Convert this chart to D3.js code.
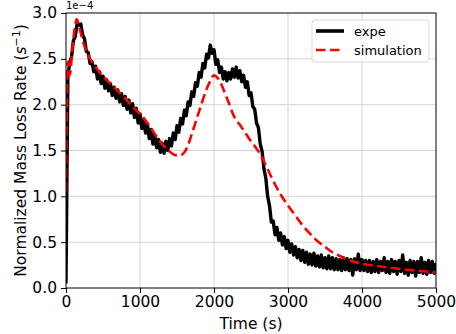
<!DOCTYPE html>
<html lang="en">
<head>
<meta charset="utf-8">
<title>Mass loss rate</title>
<script src="https://d3js.org/d3.v7.min.js"></script>
<style>
  body { margin: 0; background: #fff; }
  svg { display: block; font-family: "DejaVu Sans", sans-serif; }
</style>
</head>
<body>
<svg id="chart" width="456" height="334"></svg>
<script>
// axis ticks
const xTicks = [0, 1000, 2000, 3000, 4000, 5000]
const yTicks = [0.0, 0.5, 1.0, 1.5, 2.0, 2.5, 3.0]
const seriesNames = ["expe", "simulation"]

const expe = [
  [0,0.05],[25,2.30],[50,2.46],[75,2.52],[100,2.70],[125,2.74],[150,2.88],[175,2.87],
  [200,2.88],[225,2.76],[250,2.72],[275,2.58],[300,2.57],[325,2.45],[350,2.47],[375,2.36],
  [400,2.42],[425,2.28],[450,2.36],[475,2.23],[500,2.31],[525,2.18],[550,2.27],[575,2.15],
  [600,2.23],[625,2.10],[650,2.19],[675,2.07],[700,2.16],[725,2.03],[750,2.12],[775,1.99],
  [800,2.09],[825,1.95],[850,2.05],[875,1.91],[900,2.01],[925,1.86],[950,1.96],[975,1.80],
  [1000,1.90],[1025,1.74],[1050,1.84],[1075,1.69],[1100,1.79],[1125,1.63],[1150,1.73],[1175,1.57],
  [1200,1.67],[1225,1.53],[1250,1.62],[1275,1.48],[1300,1.58],[1325,1.47],[1350,1.60],[1375,1.50],
  [1400,1.63],[1425,1.55],[1450,1.69],[1475,1.62],[1500,1.77],[1525,1.70],[1550,1.85],[1575,1.79],
  [1600,1.94],[1625,1.88],[1650,2.03],[1675,1.99],[1700,2.14],[1725,2.09],[1750,2.24],[1775,2.20],
  [1800,2.35],[1825,2.30],[1850,2.45],[1875,2.40],[1900,2.55],[1925,2.51],[1950,2.65],[1975,2.56],
  [2000,2.60],[2025,2.44],[2050,2.49],[2075,2.35],[2100,2.41],[2125,2.28],[2150,2.36],[2175,2.26],
  [2200,2.35],[2225,2.28],[2250,2.39],[2275,2.30],[2300,2.41],[2325,2.29],[2350,2.37],[2375,2.25],
  [2400,2.32],[2425,2.19],[2450,2.25],[2475,2.10],[2500,2.13],[2525,1.98],[2550,1.95],[2575,1.80],
  [2600,1.75],[2625,1.57],[2650,1.49],[2675,1.30],[2700,1.20],[2725,1.00],[2750,0.90],[2775,0.72],
  [2800,0.73],[2825,0.58],[2850,0.66],[2875,0.52],[2900,0.60],[2925,0.47],[2950,0.56],[2975,0.43],
  [3000,0.52],[3025,0.39],[3050,0.48],[3075,0.36],[3100,0.45],[3125,0.33],[3150,0.42],[3175,0.30],
  [3200,0.41],[3225,0.28],[3250,0.39],[3275,0.26],[3300,0.37],[3325,0.25],[3350,0.38],[3375,0.24],
  [3400,0.35],[3425,0.23],[3450,0.36],[3475,0.22],[3500,0.33],[3525,0.21],[3550,0.35],[3575,0.21],
  [3600,0.33],[3625,0.20],[3650,0.32],[3675,0.20],[3700,0.31],[3725,0.19],[3750,0.33],[3775,0.20],
  [3800,0.32],[3825,0.19],[3850,0.31],[3875,0.14],[3900,0.32],[3925,0.20],[3950,0.37],[3975,0.19],
  [4000,0.31],[4025,0.19],[4050,0.30],[4075,0.18],[4100,0.30],[4125,0.17],[4150,0.29],[4175,0.18],
  [4200,0.31],[4225,0.17],[4250,0.29],[4275,0.19],[4300,0.33],[4325,0.17],[4350,0.29],[4375,0.16],
  [4400,0.31],[4425,0.18],[4450,0.29],[4475,0.15],[4500,0.30],[4525,0.18],[4550,0.36],[4575,0.16],
  [4600,0.28],[4625,0.14],[4650,0.30],[4675,0.17],[4700,0.29],[4725,0.13],[4750,0.29],[4775,0.17],
  [4800,0.33],[4825,0.16],[4850,0.28],[4875,0.15],[4900,0.30],[4925,0.17],[4950,0.29],[4975,0.16],
  [5000,0.27]
]

// simulation [time (s), rate x1e-4], smooth
const simulation = [
  [0,1.05],[10,1.90],[20,2.45],[30,2.47],[45,2.32],[60,2.36],[80,2.55],[100,2.72],[120,2.85],
  [145,2.93],[170,2.88],[200,2.78],[250,2.64],[300,2.54],[400,2.41],[500,2.31],[600,2.23],
  [700,2.15],[800,2.07],[900,1.98],[1000,1.90],[1100,1.80],[1200,1.68],[1300,1.57],[1400,1.49],
  [1480,1.45],[1550,1.45],[1600,1.48],[1650,1.56],[1700,1.68],[1800,1.93],[1900,2.17],[1950,2.26],
  [2000,2.32],[2050,2.29],[2100,2.22],[2150,2.12],[2200,2.02],[2250,1.91],[2300,1.83],[2350,1.78],
  [2400,1.72],[2450,1.66],[2500,1.60],[2550,1.55],[2600,1.49],[2650,1.42],[2700,1.34],[2800,1.17],
  [2900,1.02],[3000,0.90],[3100,0.79],[3200,0.68],[3300,0.59],[3400,0.51],[3500,0.45],[3600,0.39],
  [3700,0.35],[3800,0.31],[3900,0.285],[4000,0.265],[4200,0.24],[4400,0.22],[4600,0.20],[4800,0.185],
  [5000,0.17]
]

const margin = {top: 13, right: 20, bottom: 46, left: 66}
const W = 456, H = 334
const width = W - margin.left - margin.right
const height = H - margin.top - margin.bottom

const svg = d3.select("#chart")
const g = svg.append("g").attr("transform", `translate(${margin.left},${margin.top})`)

const x = d3.scaleLinear().domain([0, 5000]).range([0, width])
const y = d3.scaleLinear().domain([0, 3]).range([height, 0])

// grid
g.append("g").selectAll("line").data(xTicks.slice(1, -1)).join("line")
  .attr("x1", d => x(d)).attr("x2", d => x(d))
  .attr("y1", 0).attr("y2", height)
  .attr("stroke", "#d4d4d4").attr("stroke-width", 1)
g.append("g").selectAll("line").data(yTicks.slice(1, -1)).join("line")
  .attr("x1", 0).attr("x2", width)
  .attr("y1", d => y(d)).attr("y2", d => y(d))
  .attr("stroke", "#d4d4d4").attr("stroke-width", 1)

// clip for the curves
svg.append("defs").append("clipPath").attr("id", "clip")
  .append("rect").attr("x", 0).attr("y", -2).attr("width", width).attr("height", height + 2)

const line = d3.line().x(d => x(d[0])).y(d => y(d[1]))

const curves = g.append("g").attr("clip-path", "url(#clip)")
curves.append("path").datum(expe)
  .attr("fill", "none").attr("stroke", "#000")
  .attr("stroke-width", 3.4).attr("stroke-linejoin", "round")
  .attr("d", line)
curves.append("path").datum(simulation)
  .attr("fill", "none").attr("stroke", "#ff0000")
  .attr("stroke-width", 2.6).attr("stroke-dasharray", "9.5,4.5")
  .attr("d", line.curve(d3.curveMonotoneX))

// axes
const xAxis = g.append("g").attr("transform", `translate(0,${height})`)
  .call(d3.axisBottom(x).tickValues(xTicks).tickSize(5).tickPadding(3).tickFormat(d3.format("d")))
const yAxis = g.append("g")
  .call(d3.axisLeft(y).tickValues(yTicks).tickSize(5).tickPadding(4).tickFormat(d3.format(".1f")))
;[xAxis, yAxis].forEach(a => {
  a.select(".domain").remove()
  a.selectAll("line").attr("stroke", "#000").attr("stroke-width", 1)
  a.selectAll("text").attr("font-size", 15.5).attr("fill", "#000")
    .attr("font-family", "DejaVu Sans, sans-serif")
})

// frame
g.append("rect").attr("width", width).attr("height", height)
  .attr("fill", "none").attr("stroke", "#000").attr("stroke-width", 1)

// offset text
g.append("text").attr("x", 0).attr("y", -4)
  .attr("font-size", 10).text("1e\u22124")

// axis labels
svg.append("text").attr("x", margin.left + width / 2).attr("y", 329)
  .attr("text-anchor", "middle").attr("font-size", 15.5).text("Time (s)")
const yl = svg.append("text")
  .attr("transform", `translate(26,${margin.top + height / 2}) rotate(-90)`)
  .attr("text-anchor", "middle").attr("font-size", 15.5)
yl.append("tspan").text("Normalized Mass Loss Rate (")
yl.append("tspan").attr("font-style", "italic").text("s")
yl.append("tspan").attr("dy", -6).attr("font-size", 11).text("\u22121")
yl.append("tspan").attr("dy", 6).text(")")

// legend
const lg = g.append("g").attr("transform", `translate(${width - 124},7)`)
lg.append("rect").attr("width", 117).attr("height", 42).attr("rx", 3)
  .attr("fill", "#fff").attr("fill-opacity", 0.85)
  .attr("stroke", "#d9d9d9").attr("stroke-width", 1)
const items = lg.selectAll("g.item").data(seriesNames).join("g")
  .attr("transform", (d, i) => `translate(0,${11 + i * 19})`)
items.append("line").attr("x1", 4).attr("x2", 32).attr("y1", 0).attr("y2", 0)
  .attr("stroke", (d, i) => i ? "#ff0000" : "#000")
  .attr("stroke-width", (d, i) => i ? 2.6 : 3.6)
  .attr("stroke-dasharray", (d, i) => i ? "9.5,4.5" : null)
items.append("text").attr("x", 42).attr("y", 4.5).attr("font-size", 13).text(d => d)
</script>
</body>
</html>
